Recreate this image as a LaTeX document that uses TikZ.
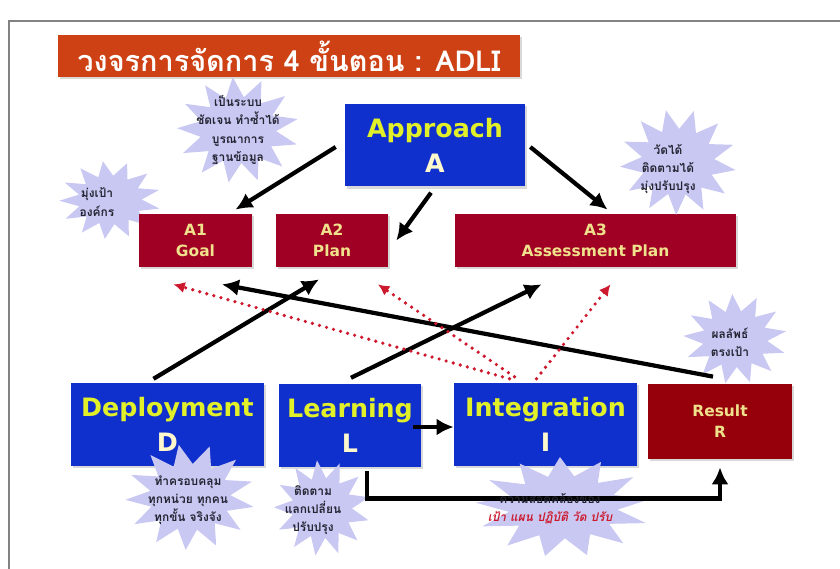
\documentclass[tikz,border=0pt]{standalone}
\usepackage{fontspec}
\setmainfont{DejaVu Sans}
\newfontfamily\thaifont[Script=Thai]{Loma}
\usetikzlibrary{shapes.geometric,arrows.meta,calc,shadows}
\definecolor{adliblue}{RGB}{16,48,205}
\definecolor{adlired}{RGB}{160,0,35}
\definecolor{resred}{RGB}{150,0,10}
\definecolor{adliorange}{RGB}{205,65,20}
\definecolor{burstfill}{RGB}{200,200,242}
\definecolor{hiyellow}{RGB}{225,240,40}
\definecolor{cream}{RGB}{255,248,205}
\definecolor{subtext}{RGB}{240,225,140}
\definecolor{adlidot}{RGB}{205,25,45}
\definecolor{notetext}{RGB}{35,35,50}
\definecolor{framegray}{RGB}{130,130,130}
\begin{document}
\begin{tikzpicture}[x=0.025cm, y=-0.025cm, >={Latex[length=12pt,width=12pt]},
    box/.style={align=center, inner sep=0pt, drop shadow={shadow xshift=1.5pt, shadow yshift=-1.5pt, opacity=0.3}},
    big/.style={box, fill=adliblue, text=hiyellow, minimum height=2.07cm, font=\bfseries\fontsize{18}{25}\selectfont},
    sub/.style={box, fill=adlired, text=subtext, minimum height=1.33cm, font=\bfseries\fontsize{11}{15}\selectfont},
    burst/.style={star, star points=13, star point ratio=1.6, fill=burstfill, inner sep=0pt, transform shape},
    note/.style={align=center, text=notetext, font=\thaifont\bfseries\fontsize{8.5}{13}\selectfont},
    arr/.style={->, line width=3pt},
    dotarr/.style={-{Latex[length=8pt,width=8pt]}, draw=adlidot, line width=2.6pt, line cap=round, dash pattern=on 0pt off 5.2pt}]
  \useasboundingbox (0,0) rectangle (840,569);
  \draw[framegray, line width=1.4pt] (9,569) -- (9,21) -- (840,21);
  \node[box, fill=adliorange, text=white, minimum width=11.55cm, minimum height=1.05cm, font=\thaifont\bfseries\fontsize{20.5}{22}\selectfont] (title) at (289,56) {วงจรการจัดการ 4 ขั้นตอน : ADLI};
  \node[burst, minimum size=1.95cm, xscale=1.3, shape border rotate=8] (bGoal) at (110,200) {};
  \node[big, minimum width=4.5cm] (app) at (435,145) {Approach\\\textcolor{cream}{A}};
  \node[sub, minimum width=2.83cm] (goal) at (195.5,240.5) {A1\\Goal};
  \node[sub, minimum width=2.8cm] (plan) at (332,240.5) {A2\\Plan};
  \node[sub, minimum width=7.03cm] (assess) at (595.5,240.5) {A3\\Assessment Plan};
  \node[big, minimum width=4.83cm] (dep) at (167.5,424.5) {Deployment\\\textcolor{cream}{D}};
  \node[big, minimum width=3.55cm] (learn) at (350,425.5) {Learning\\\textcolor{cream}{L}};
  \node[big, minimum width=4.58cm] (integ) at (545.5,424.5) {Integration\\\textcolor{cream}{I}};
  \node[sub, fill=resred, minimum width=3.6cm, minimum height=1.88cm] (res) at (720,421.5) {Result\\R};
  \node[burst, minimum size=2.65cm, xscale=1.15, shape border rotate=5] (bSys) at (238,130) {};
  \node[burst, minimum size=2.65cm, xscale=1.1, shape border rotate=12] (bMeas) at (678,162) {};
  \node[burst, minimum size=2.25cm, xscale=1.15, shape border rotate=3] (bRes) at (735,339) {};
  \node[burst, minimum size=2.65cm, xscale=1.22, shape border rotate=10] (bDep) at (190,497) {};
  \node[burst, minimum size=2.4cm, shape border rotate=6] (bLearn) at (322,508) {};
  \node[burst, minimum size=2.5cm, xscale=1.75, shape border rotate=2] (bInteg) at (563,507) {};
  \draw[arr] ($(app.west)+(-9,2)$) -- ($(goal.north)+(40,-4)$);
  \draw[arr] ($(app.south)+(-4,6)$) -- ($(plan.east)+(8,0)$);
  \draw[arr] ($(app.east)+(5,2)$) -- ($(assess.north)+(12,-4)$);
  \draw[arr] ($(dep.north)+(-14,-4)$) -- ($(plan.south)+(-13,12)$);
  \draw[arr] ($(learn.north)+(1,-6)$) -- ($(assess.south)+(-54,17)$);
  \draw[arr] ($(res.north)+(-7,-7)$) -- ($(goal.south)+(26.5,17)$);
  \draw[arr] ($(learn.east)+(-8,1.5)$) -- ($(integ.west)+(0,2.5)$);
  \coordinate (fb) at ($(res.south)+(0,39)$);
  \draw[arr] ($(learn.south)+(17,4)$) |- (fb) -- ($(res.south)+(0,8)$);
  \draw[dotarr] ($(integ.north)+(-36,-4)$) -- ($(goal.south)+(-22,17)$);
  \draw[dotarr] ($(integ.north)+(-31,-6)$) -- ($(plan.south)+(46,17)$);
  \draw[dotarr] ($(integ.north)+(-9,-4)$) -- ($(assess.south)+(15,17)$);
  \node[note] (nSys) at (238,130) {เป็นระบบ\\ชัดเจน ทำซ้ำได้\\บูรณาการ\\ฐานข้อมูล};
  \node[note] (nMeas) at (668,169) {วัดได้\\ติดตามได้\\มุ่งปรับปรุง};
  \node[note] (nGoal) at (97,202) {มุ่งเป้า\\องค์กร};
  \node[note] (nRes) at (730,342) {ผลลัพธ์\\ตรงเป้า};
  \node[note] (nDep) at (188,500) {ทำครอบคลุม\\ทุกหน่วย ทุกคน\\ทุกขั้น จริงจัง};
  \node[note] (nLearn) at (313,510) {ติดตาม\\แลกเปลี่ยน\\ปรับปรุง};
  \node[note] (nInteg) at (550,509) {ความสอดคล้องของ\\\textcolor{adlidot}{\itshape เป้า แผน ปฏิบัติ วัด ปรับ}};
\end{tikzpicture}
\end{document}
